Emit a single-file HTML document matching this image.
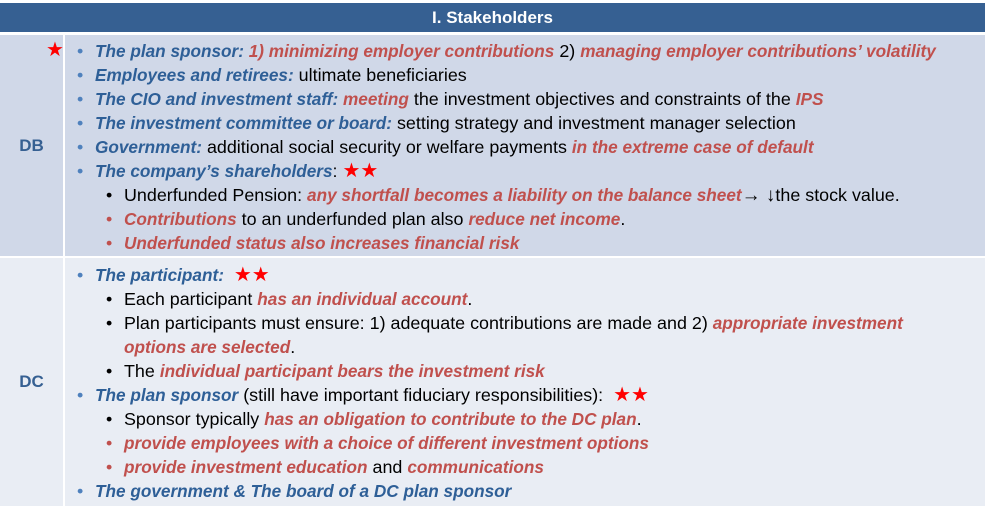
<!DOCTYPE html>
<html><head><meta charset="utf-8">
<style>
body{margin:0;width:987px;height:510px;background:#fff;font-family:"Liberation Sans",sans-serif;overflow:hidden;position:relative}
.hdr{position:absolute;left:0;top:3px;width:985px;height:29px;background:#366092;color:#fff;font-weight:bold;font-size:17px;text-align:center;line-height:29px}
.row{position:absolute;left:0;width:985px}
.db{top:35px;height:221px;background:#d0d8e8}
.dc{top:258px;height:248px;background:#e9edf4}
.lab{position:absolute;left:0;width:63px;border-right:2px solid #fff;height:100%;color:#366092;font-weight:bold;font-size:17px;display:flex;align-items:center;justify-content:center}
.ln{position:absolute;white-space:nowrap;font-size:17.9px;line-height:24px;color:#000}
.l1{left:95px}.l2{left:124px}
.l1:before{content:"•";position:absolute;left:-18px;color:#4f81bd}
.l2.b:before{content:"•";position:absolute;left:-18px;color:#000}
.l2.r:before{content:"•";position:absolute;left:-18px;color:#c0504d}
.bl{color:#2e5f97;font-weight:bold;font-style:italic;font-size:17.2px}
.rd{color:#c0504d;font-weight:bold;font-style:italic;font-size:17.2px}
.st{color:#f00;font-size:20px;font-style:normal}
.ar{font-size:19px;font-weight:bold}
</style></head><body>
<div class="hdr">I. Stakeholders</div>
<div class="row db">
<div class="lab">DB</div>
<span class="st" style="position:absolute;left:46px;top:3px;line-height:24px">★</span>
<div class="ln l1" style="top:4px"><span class="bl">The plan sponsor: </span><span class="rd">1) minimizing employer contributions</span> 2) <span class="rd">managing employer contributions’ volatility</span></div>
<div class="ln l1" style="top:28px"><span class="bl">Employees and retirees:</span> ultimate beneficiaries</div>
<div class="ln l1" style="top:52px"><span class="bl">The CIO and investment staff: </span><span class="rd">meeting</span> the investment objectives and constraints of the <span class="rd">IPS</span></div>
<div class="ln l1" style="top:76px"><span class="bl">The investment committee or board:</span> setting strategy and investment manager selection</div>
<div class="ln l1" style="top:100px"><span class="bl">Government:</span> additional social security or welfare payments <span class="rd">in the extreme case of default</span></div>
<div class="ln l1" style="top:124px"><span class="bl">The company’s shareholders</span>: <span class="st">★★</span></div>
<div class="ln l2 b" style="top:148px">Underfunded Pension: <span class="rd">any shortfall becomes a liability on the balance sheet</span><span class="ar">→ ↓</span>the stock value.</div>
<div class="ln l2 r" style="top:172px"><span class="rd">Contributions</span> to an underfunded plan also <span class="rd">reduce net income</span>.</div>
<div class="ln l2 r" style="top:196px"><span class="rd">Underfunded status also increases financial risk</span></div>
</div>
<div class="row dc">
<div class="lab">DC</div>
<div class="ln l1" style="top:5px"><span class="bl">The participant:</span>&nbsp; <span class="st">★★</span></div>
<div class="ln l2 b" style="top:29px">Each participant <span class="rd">has an individual account</span>.</div>
<div class="ln l2 b" style="top:53px">Plan participants must ensure: 1) adequate contributions are made and 2) <span class="rd">appropriate investment</span></div>
<div class="ln l2" style="top:77px"><span class="rd">options are selected</span>.</div>
<div class="ln l2 b" style="top:101px">The <span class="rd">individual participant bears the investment risk</span></div>
<div class="ln l1" style="top:125px"><span class="bl">The plan sponsor</span> (still have important fiduciary responsibilities):&nbsp; <span class="st">★★</span></div>
<div class="ln l2 b" style="top:149px">Sponsor typically <span class="rd">has an obligation to contribute to the DC plan</span>.</div>
<div class="ln l2 r" style="top:173px"><span class="rd">provide employees with a choice of different investment options</span></div>
<div class="ln l2 r" style="top:197px"><span class="rd">provide investment education</span> and <span class="rd">communications</span></div>
<div class="ln l1" style="top:221px"><span class="bl">The government &amp; The board of a DC plan sponsor</span></div>
</div>
</body></html>
